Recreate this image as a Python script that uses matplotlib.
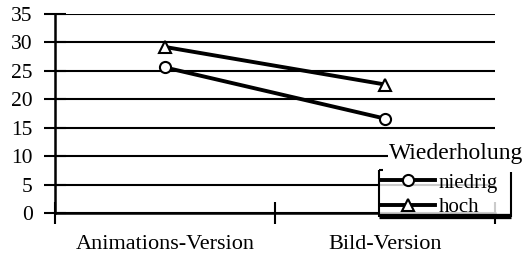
import matplotlib
matplotlib.use("Agg")
import matplotlib.pyplot as plt
from matplotlib.lines import Line2D

categories = ["Animations-Version", "Bild-Version"]
niedrig = [25.6, 16.6]
hoch = [29.2, 22.6]
yticks = [0, 5, 10, 15, 20, 25, 30, 35]

plt.rcParams["font.family"] = ["Liberation Serif", "DejaVu Serif"]

W, H = 531, 261
fig = plt.figure(figsize=(W / 100, H / 100), dpi=100)
ax = fig.add_axes([55 / W, 1 - 213 / H, 440 / W, 199 / H])

xpos = [0.5, 1.5]
ax.plot(xpos, niedrig, color="black", lw=2.8, marker="o", ms=8,
        mfc="white", mec="black", mew=1.5, label="niedrig", zorder=3)
ax.plot(xpos, hoch, color="black", lw=2.8, marker="^", ms=8.5,
        mfc="white", mec="black", mew=1.5, label="hoch", zorder=3)

ax.set_xlim(0, 2)
ax.set_ylim(0, 35)
ax.set_yticks(yticks)
ax.tick_params(axis="y", direction="inout", length=16, width=1.5,
               labelsize=15.5, pad=8)
ax.set_xticks([0, 1, 2])
ax.set_xticklabels([])
ax.tick_params(axis="x", which="major", direction="inout", length=16, width=1.5)
ax.set_xticks(xpos, minor=True)
ax.set_xticklabels(categories, minor=True)
ax.tick_params(axis="x", which="minor", length=0, labelsize=16, pad=16)

ax.grid(axis="y", color="black", lw=1.5)
ax.set_axisbelow(True)
for s in ["top", "right"]:
    ax.spines[s].set_visible(False)
for s in ["left", "bottom"]:
    ax.spines[s].set_linewidth(1.8)

# legend title with white background
fig.text(389 / W, 1 - 154 / H, "Wiederholung", fontsize=17, va="center",
         ha="left", bbox=dict(fc="white", ec="none", pad=1))

leg = fig.legend(loc="upper left", bbox_to_anchor=(380 / W, 1 - 172 / H),
                 frameon=True, fancybox=False, fontsize=15, handlelength=2.6,
                 handletextpad=0.15, labelspacing=0.25, borderpad=0.05,
                 borderaxespad=0)
leg.get_frame().set_edgecolor("none")
leg.get_frame().set_facecolor("white")
leg.set_zorder(5)

# bracket-like frame
def px(x, y):
    return x / W, 1 - y / H

segs = [
    ([379, 379], [170, 217], 1.5),
    ([379, 383], [170, 170], 1.5),
    ([511, 511], [172, 217], 1.5),
    ([379, 511], [215.5, 215.5], 3.8),
]
for xs, ys, lw in segs:
    p0 = px(xs[0], ys[0])
    p1 = px(xs[1], ys[1])
    fig.add_artist(Line2D([p0[0], p1[0]], [p0[1], p1[1]], color="black",
                          lw=lw, transform=fig.transFigure, zorder=6,
                          solid_capstyle="butt"))

fig.savefig("out.png", dpi=100)
